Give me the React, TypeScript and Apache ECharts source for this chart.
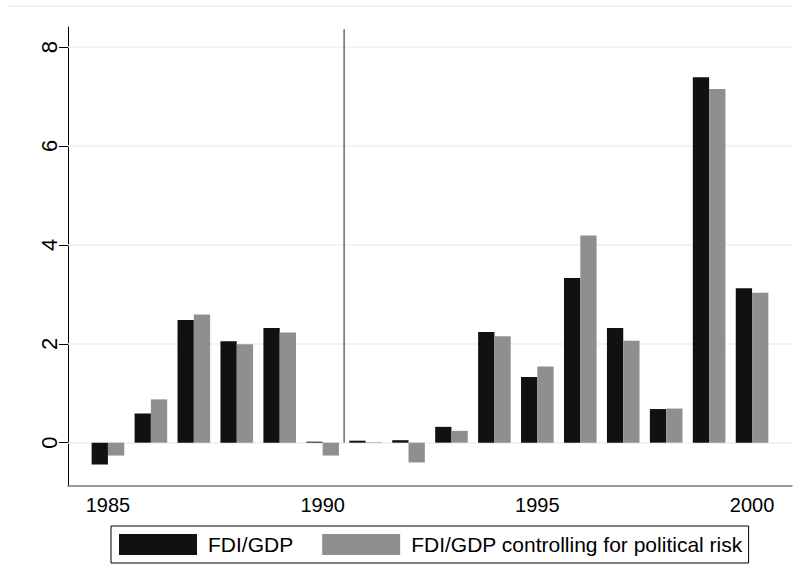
import React, { useEffect, useRef } from "react";
import * as echarts from "echarts";

const years = [1985, 1986, 1987, 1988, 1989, 1990, 1991, 1992, 1993, 1994, 1995, 1996, 1997, 1998, 1999, 2000];
const fdiGdp = [-0.44, 0.59, 2.48, 2.05, 2.32, 0.02, 0.04, 0.05, 0.32, 2.24, 1.33, 3.33, 2.32, 0.68, 7.39, 3.12];
const fdiGdpRisk = [-0.26, 0.875, 2.59, 1.99, 2.23, -0.26, 0.01, -0.4, 0.24, 2.15, 1.54, 4.19, 2.06, 0.69, 7.15, 3.03];
const xTickLabels = [1985, 1990, 1995, 2000];
const yTickLabels = [0, 2, 4, 6, 8];
const seriesNames = ["FDI/GDP", "FDI/GDP controlling for political risk"];
const breakYear = 1990.5;
const breakLineRange = [0, 8.36];

const FONT = "'Liberation Sans', Arial, sans-serif";

export default function App() {
  const ref = useRef<HTMLDivElement>(null);
  useEffect(() => {
    document.body.style.margin = "0";
    const chart = echarts.init(ref.current!, null, { renderer: "svg" });
    const option: any = {
      animation: false,
      backgroundColor: "#ffffff",
      textStyle: { fontFamily: FONT },
      grid: { left: 68, top: 27, right: 7, bottom: 99, containLabel: false },
      graphic: [
        {
          type: "line",
          shape: { x1: 9, y1: 6, x2: 791, y2: 6 },
          style: { stroke: "#e6eef0", lineWidth: 1.5 },
          silent: true,
        },
      ],
      legend: {
        left: 111,
        top: 526,
        orient: "horizontal",
        padding: [8, 6, 8, 8],
        itemWidth: 78,
        itemHeight: 21,
        itemGap: 29,
        borderColor: "#000",
        borderWidth: 1,
        icon: "rect",
        textStyle: { fontSize: 21, color: "#000", fontFamily: FONT, padding: [0, 0, 0, 6] },
        data: seriesNames,
      },
      xAxis: {
        type: "value",
        min: 1984.07,
        max: 2000.93,
        axisLine: { show: true, onZero: false, lineStyle: { color: "#7a7a7a", width: 1.5 } },
        axisTick: { show: false },
        splitLine: { show: false },
        axisLabel: {
          customValues: xTickLabels,
          fontSize: 20,
          color: "#000",
          fontFamily: FONT,
          margin: 9,
          formatter: (v: number) => String(v),
        },
      },
      yAxis: {
        type: "value",
        min: -0.876,
        max: 8.405,
        axisLine: { show: true, lineStyle: { color: "#000", width: 1 } },
        axisTick: { show: true, customValues: yTickLabels, length: 9, lineStyle: { color: "#000", width: 1 } },
        splitLine: { show: false },
        axisLabel: {
          customValues: yTickLabels,
          rotate: 90,
          fontSize: 22,
          color: "#000",
          fontFamily: FONT,
          margin: 8,
          formatter: (v: number) => String(v),
        },
      },
      series: [
        {
          name: seriesNames[0],
          type: "bar",
          barWidth: 16.3,
          barGap: "0%",
          z: 2,
          itemStyle: { color: "#111111" },
          data: years.map((y, i) => [y, fdiGdp[i]]),
          markLine: {
            z: 1,
            silent: true,
            symbol: "none",
            label: { show: false },
            lineStyle: { color: "#eaf1f3", width: 1.5, type: "solid" },
            data: yTickLabels.map((v) => ({ yAxis: v })),
          },
        },
        {
          name: seriesNames[1],
          type: "bar",
          barWidth: 16.3,
          barGap: "0%",
          z: 2,
          itemStyle: { color: "#8f8f8f" },
          data: years.map((y, i) => [y, fdiGdpRisk[i]]),
        },
        {
          name: "break",
          type: "line",
          z: 3,
          silent: true,
          showSymbol: false,
          symbol: "none",
          lineStyle: { color: "#555555", width: 1.3 },
          data: breakLineRange.map((v) => [breakYear, v]),
        },
      ],
    };
    chart.setOption(option);
    return () => chart.dispose();
  }, []);
  return <div ref={ref} style={{ width: 799, height: 585 }} />;
}
